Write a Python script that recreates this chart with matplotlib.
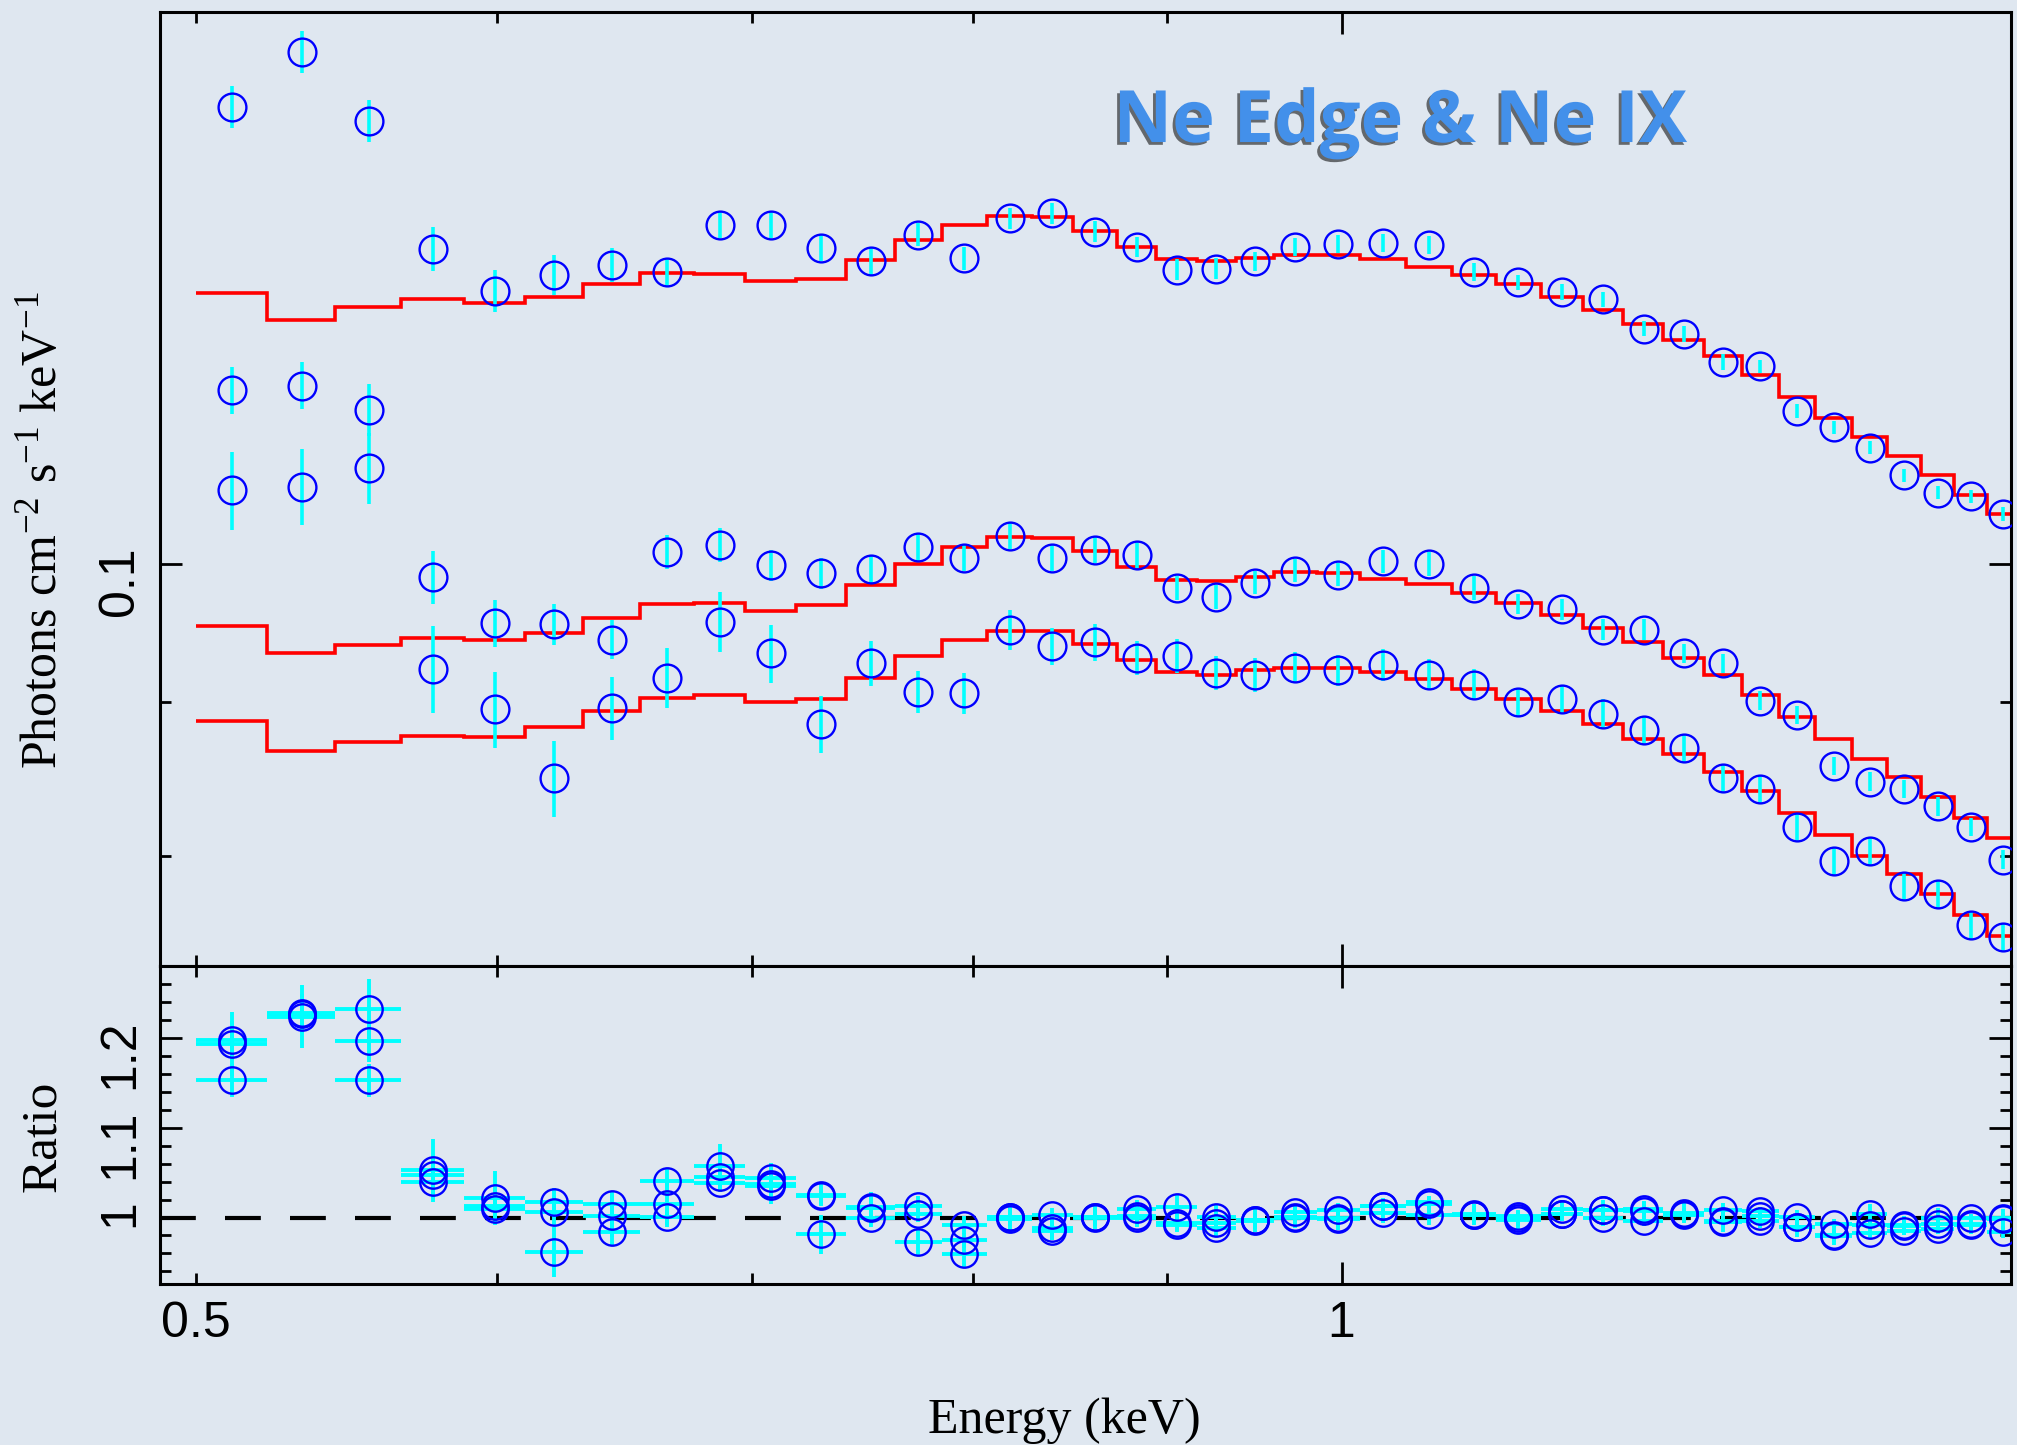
import numpy as np
import matplotlib
matplotlib.use("Agg")
from matplotlib import pyplot as plt
from matplotlib import patheffects as pe
from matplotlib.ticker import FixedLocator, FixedFormatter, NullFormatter

# energy bin edges (keV)
edges = [0.500, 0.522, 0.544, 0.566, 0.588, 0.610, 0.632, 0.654, 0.676, 0.697,
         0.719, 0.741, 0.763, 0.785, 0.807, 0.829, 0.850, 0.873, 0.894, 0.916,
         0.938, 0.960, 0.985, 1.011, 1.040, 1.069, 1.098, 1.128, 1.157, 1.186,
         1.215, 1.245, 1.274, 1.303, 1.332, 1.362, 1.391, 1.420, 1.449, 1.478, 1.507]

# spectrum 1 (upper)
data_1 = [0.1418, 0.1479, 0.1403, 0.1272, 0.1232, 0.1247, 0.1257, 0.1250, 0.1296, 0.1296,
          0.1273, 0.1260, 0.1286, 0.1263, 0.1302, 0.1307, 0.1289, 0.1274, 0.1252, 0.1253,
          0.1260, 0.1274, 0.1277, 0.1278, 0.1276, 0.1250, 0.1240, 0.1231, 0.1224, 0.1197,
          0.1192, 0.1167, 0.1163, 0.1124, 0.1110, 0.1093, 0.1070, 0.1056, 0.1053, 0.1039]
model_1 = [0.1230, 0.1205, 0.1217, 0.1224, 0.1221, 0.1226, 0.1238, 0.1249, 0.1248, 0.1241,
           0.1243, 0.1261, 0.1281, 0.1296, 0.1304, 0.1303, 0.1290, 0.1274, 0.1262, 0.1260,
           0.1263, 0.1266, 0.1266, 0.1262, 0.1255, 0.1247, 0.1238, 0.1226, 0.1214, 0.1201,
           0.1187, 0.1172, 0.1155, 0.1136, 0.1118, 0.1102, 0.1086, 0.1070, 0.1054, 0.1039]
relerr_1 = [0.016, 0.016, 0.016, 0.017, 0.016, 0.015, 0.013, 0.011, 0.010, 0.010,
            0.010, 0.010, 0.009, 0.009, 0.008, 0.008, 0.008, 0.008, 0.008, 0.008,
            0.007, 0.007, 0.007, 0.007, 0.007, 0.007, 0.006, 0.006, 0.006, 0.006,
            0.006, 0.006, 0.005, 0.005, 0.005, 0.005, 0.005, 0.005, 0.005, 0.005]

# spectrum 2 (middle)
data_2 = [0.1142, 0.1146, 0.1125, 0.0990, 0.0956, 0.0955, 0.0944, 0.1009, 0.1015, 0.0999,
          0.0993, 0.0996, 0.1013, 0.1005, 0.1022, 0.1005, 0.1011, 0.1007, 0.0982, 0.0975,
          0.0986, 0.0995, 0.0992, 0.1002, 0.1000, 0.0982, 0.0970, 0.0966, 0.0951, 0.0951,
          0.0934, 0.0927, 0.0901, 0.0891, 0.0857, 0.0847, 0.0842, 0.0831, 0.0818, 0.0798]
model_2 = [0.0954, 0.0934, 0.0940, 0.0945, 0.0944, 0.0949, 0.0960, 0.0970, 0.0971, 0.0965,
           0.0969, 0.0984, 0.1000, 0.1013, 0.1021, 0.1020, 0.1010, 0.0998, 0.0988, 0.0987,
           0.0990, 0.0994, 0.0993, 0.0989, 0.0985, 0.0978, 0.0971, 0.0962, 0.0952, 0.0942,
           0.0931, 0.0919, 0.0905, 0.0890, 0.0875, 0.0862, 0.0850, 0.0837, 0.0824, 0.0811]
relerr_2 = [0.018, 0.018, 0.020, 0.020, 0.018, 0.016, 0.015, 0.013, 0.013, 0.012,
            0.012, 0.011, 0.011, 0.010, 0.010, 0.010, 0.010, 0.010, 0.009, 0.009,
            0.009, 0.009, 0.009, 0.009, 0.009, 0.009, 0.008, 0.008, 0.008, 0.008,
            0.007, 0.007, 0.007, 0.007, 0.007, 0.007, 0.007, 0.007, 0.007, 0.007]

# spectrum 3 (lower)
data_3 = [0.1058, 0.1061, 0.1076, 0.0923, 0.0895, 0.0849, 0.0896, 0.0917, 0.0957, 0.0934,
          0.0885, 0.0927, 0.0907, 0.0906, 0.0951, 0.0939, 0.0942, 0.0931, 0.0932, 0.0920,
          0.0919, 0.0924, 0.0922, 0.0926, 0.0919, 0.0912, 0.0900, 0.0902, 0.0892, 0.0881,
          0.0869, 0.0849, 0.0842, 0.0818, 0.0797, 0.0803, 0.0782, 0.0777, 0.0759, 0.0752]
model_3 = [0.0887, 0.0867, 0.0873, 0.0877, 0.0876, 0.0883, 0.0894, 0.0903, 0.0905, 0.0900,
           0.0902, 0.0917, 0.0932, 0.0944, 0.0950, 0.0950, 0.0941, 0.0929, 0.0921, 0.0919,
           0.0922, 0.0924, 0.0924, 0.0921, 0.0916, 0.0909, 0.0902, 0.0894, 0.0885, 0.0875,
           0.0865, 0.0853, 0.0841, 0.0827, 0.0813, 0.0800, 0.0789, 0.0777, 0.0765, 0.0753]
relerr_3 = [0.030, 0.029, 0.027, 0.033, 0.029, 0.029, 0.024, 0.023, 0.023, 0.022,
            0.022, 0.017, 0.016, 0.016, 0.015, 0.014, 0.014, 0.013, 0.013, 0.013,
            0.013, 0.012, 0.012, 0.012, 0.012, 0.012, 0.011, 0.011, 0.011, 0.011,
            0.011, 0.011, 0.011, 0.011, 0.011, 0.011, 0.011, 0.011, 0.011, 0.011]

spectra = [(data_1, model_1, relerr_1), (data_2, model_2, relerr_2), (data_3, model_3, relerr_3)]

bg = "#dfe7f0"
sans = "Liberation Sans"
serif = "Liberation Serif"
plt.rcParams["mathtext.fontset"] = "custom"
plt.rcParams["mathtext.rm"] = serif
plt.rcParams["mathtext.it"] = serif + ":italic"

e = np.array(edges)
centers = 0.5 * (e[:-1] + e[1:])
halfw = 0.5 * (e[1:] - e[:-1])

fig = plt.figure(figsize=(20.17, 14.45), dpi=100, facecolor=bg)
ax1 = fig.add_axes([0.07933, 0.33149, 0.91770, 0.66000], facecolor=bg)
ax1.set_xscale("log")
ax1.set_yscale("log")
ax2 = fig.add_axes([0.07933, 0.11142, 0.91770, 0.22007], facecolor=bg, sharex=ax1)

for dat, mod, rel in spectra:
    dat = np.array(dat)
    mod = np.array(mod)
    rel = np.array(rel)
    ax1.stairs(mod, e, baseline=None, color="red", lw=2.6, zorder=2)
    ax1.errorbar(centers, dat, yerr=dat * rel, fmt="o", ms=20, mfc="none", mec="blue",
                 mew=1.7, ecolor="cyan", elinewidth=2.6, capsize=0, zorder=3)
    ratio = dat / mod
    ax2.errorbar(centers, ratio, xerr=halfw, yerr=ratio * rel, fmt="o", ms=19, mfc="none",
                 mec="blue", mew=1.7, ecolor="cyan", elinewidth=2.8, capsize=0, zorder=3)

ax2.axhline(1.0, color="black", lw=3, dashes=(8.6, 7.0), zorder=2)

ax1.set_xlim(0.4892, 1.4995)
ax1.set_ylim(0.07357, 0.1524)
ax2.set_ylim(0.926, 1.28)

ax1.xaxis.set_major_locator(FixedLocator([1.0]))
ax1.xaxis.set_major_formatter(FixedFormatter(["1"]))
ax1.xaxis.set_minor_locator(FixedLocator([0.5, 0.6, 0.7, 0.8, 0.9]))
ax1.xaxis.set_minor_formatter(FixedFormatter(["0.5", "", "", "", ""]))

ax1.yaxis.set_major_locator(FixedLocator([0.1]))
ax1.yaxis.set_major_formatter(FixedFormatter(["0.1"]))
ax1.yaxis.set_minor_locator(FixedLocator([0.08, 0.09]))
ax1.yaxis.set_minor_formatter(NullFormatter())

ax2.yaxis.set_major_locator(FixedLocator([1.0, 1.1, 1.2]))
ax2.yaxis.set_major_formatter(FixedFormatter(["1", "1.1", "1.2"]))
ax2.yaxis.set_minor_locator(FixedLocator([0.94, 0.96, 0.98, 1.02, 1.04, 1.06, 1.08,
                                          1.12, 1.14, 1.16, 1.18, 1.22, 1.24, 1.26]))

for ax in (ax1, ax2):
    for s in ax.spines.values():
        s.set_linewidth(2.2)
    ax.tick_params(which="both", direction="in", top=True, right=True, width=2.0,
                   labelsize=36, pad=12)
    ax.tick_params(which="major", length=16)
    ax.tick_params(which="minor", length=8)
    ax.tick_params(axis="y", labelrotation=90)
    for lab in ax.get_xticklabels(which="both") + ax.get_yticklabels(which="both"):
        lab.set_family(sans)

ax1.tick_params(which="both", labelbottom=False)

fig.text(0.0218, 0.633, r"Photons cm$^{-2}$ s$^{-1}$ keV$^{-1}$", rotation=90,
         ha="center", va="center", fontsize=36, family=serif)
fig.text(0.0210, 0.2138, "Ratio", rotation=90, ha="center", va="center",
         fontsize=37, family=serif)
fig.text(0.5275, 0.0083, "Energy (keV)", ha="center", va="baseline",
         fontsize=36, family=serif)

fig.text(0.6944, 0.9017, "Ne Edge & Ne IX", ha="center", va="baseline", fontsize=52,
         fontweight="bold", family="Open Sans", color="#4390ea",
         path_effects=[pe.SimplePatchShadow(offset=(-2, -2), shadow_rgbFace="black", alpha=0.55),
                       pe.Normal()])

fig.savefig("out.png", dpi=100, facecolor=bg)
